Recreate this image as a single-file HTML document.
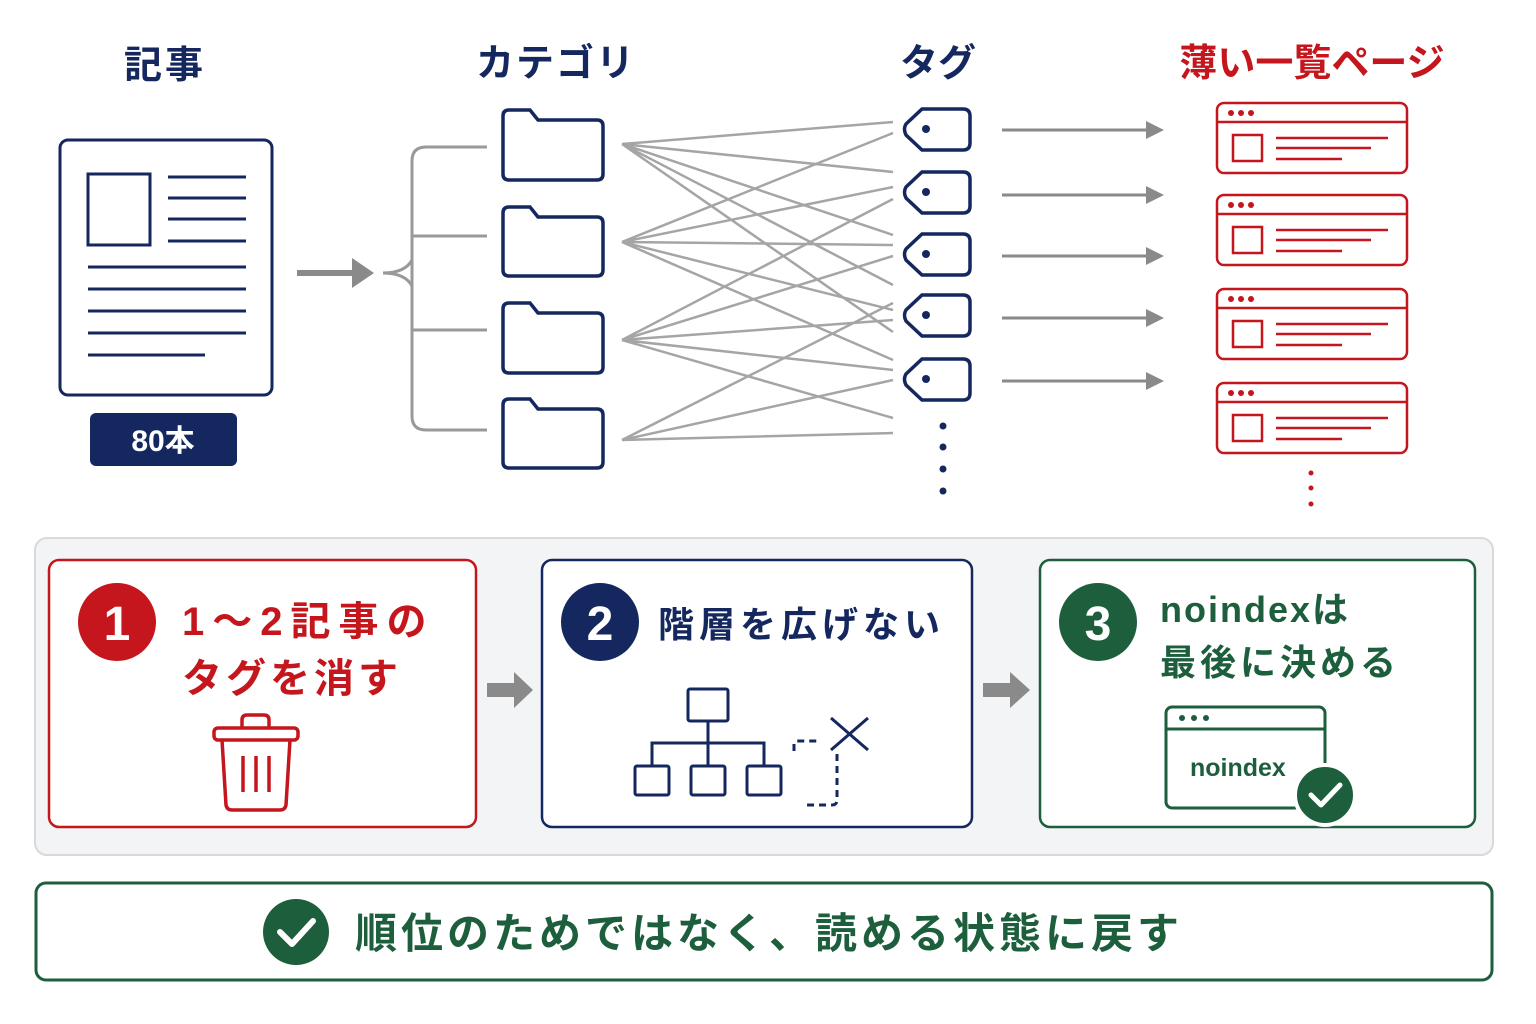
<!DOCTYPE html>
<html><head><meta charset="utf-8"><style>
html,body{margin:0;padding:0;background:#fff}
svg{display:block}
text{font-family:"Liberation Sans","Noto Sans CJK JP",sans-serif;font-weight:bold}
</style></head><body>
<svg width="1536" height="1024" viewBox="0 0 1536 1024" xmlns="http://www.w3.org/2000/svg">
<!-- titles -->
<g font-size="38" text-anchor="middle" fill="#14275e">
<text x="165" y="78" letter-spacing="3">記事</text>
<text x="556" y="76" letter-spacing="2">カテゴリ</text>
<text x="938" y="76">タグ</text>
<text x="1312" y="76" fill="#c4161c">薄い一覧ページ</text>
</g>
<!-- document -->
<g stroke="#14275e" stroke-width="3" fill="none">
<rect x="60" y="140" width="212" height="255" rx="8"/>
<rect x="88" y="174" width="62" height="71"/>
<path d="M168 177H246M168 198H246M168 219H246M168 241H246M88 267H246M88 289H246M88 311H246M88 333H246M88 355H205"/>
</g>
<rect x="90" y="413" width="147" height="53" rx="6" fill="#14275e"/>
<text x="163" y="451" font-size="30" fill="#fff" text-anchor="middle" font-weight="normal">80本</text>
<!-- arrow -->
<path d="M297 273H358" stroke="#8a8a8a" stroke-width="6"/>
<path d="M352 258L374 273L352 288z" fill="#8a8a8a"/>
<!-- bracket -->
<g stroke="#999" stroke-width="3" fill="none">
<path d="M487 147H426Q412 147 412 161V416Q412 430 426 430H487"/>
<path d="M412 236H487M412 330H487"/>
<path d="M383 273Q405 273 412 260M412 286Q405 273 383 273"/>
</g>
<!-- folders -->
<g stroke="#14275e" stroke-width="3.5" fill="#fff">
<path d="M509 110H530L538 120H597Q603 120 603 126V174Q603 180 597 180H509Q503 180 503 174V116Q503 110 509 110z"/>
<path d="M509 207H530L538 217H597Q603 217 603 223V270Q603 276 597 276H509Q503 276 503 270V213Q503 207 509 207z"/>
<path d="M509 303H530L538 313H597Q603 313 603 319V367Q603 373 597 373H509Q503 373 503 367V309Q503 303 509 303z"/>
<path d="M509 399H530L538 409H597Q603 409 603 415V462Q603 468 597 468H509Q503 468 503 462V405Q503 399 509 399z"/>
</g>
<!-- lines -->
<g stroke="#a5a5a5" stroke-width="2.5" fill="none">
<path d="M622 144L893 122M622 144L893 172M622 144L893 235M622 144L893 285M622 144L893 332"/>
<path d="M622 242L893 133M622 242L893 187M622 242L893 245M622 242L893 310M622 242L893 360"/>
<path d="M622 340L893 199M622 340L893 256M622 340L893 320M622 340L893 370M622 340L893 418"/>
<path d="M622 440L893 303M622 440L893 380M622 440L893 433"/>
</g>
<!-- tags -->
<g stroke="#14275e" stroke-width="3.5" fill="#fff">
<path d="M922 109H963Q970 109 970 116V143Q970 150 963 150H922L906 135Q903 129 906 124z"/>
<path d="M922 172H963Q970 172 970 179V206Q970 213 963 213H922L906 198Q903 192 906 187z"/>
<path d="M922 234H963Q970 234 970 241V268Q970 275 963 275H922L906 260Q903 254 906 249z"/>
<path d="M922 295H963Q970 295 970 302V329Q970 336 963 336H922L906 321Q903 315 906 310z"/>
<path d="M922 359H963Q970 359 970 366V393Q970 400 963 400H922L906 385Q903 379 906 374z"/>
</g>
<g fill="#14275e">
<circle cx="926" cy="129" r="4"/><circle cx="926" cy="192" r="4"/><circle cx="926" cy="254" r="4"/><circle cx="926" cy="315" r="4"/><circle cx="926" cy="379" r="4"/>
<circle cx="943" cy="426" r="3.5"/><circle cx="943" cy="447" r="3.5"/><circle cx="943" cy="469" r="3.5"/><circle cx="943" cy="491" r="3.5"/>
</g>
<!-- right arrows -->
<g stroke="#8a8a8a" stroke-width="3"><path d="M1002 130H1148M1002 195H1148M1002 256H1148M1002 318H1148M1002 381H1148"/></g>
<g fill="#8a8a8a"><path d="M1146 121L1164 130L1146 139z"/><path d="M1146 186L1164 195L1146 204z"/><path d="M1146 247L1164 256L1146 265z"/><path d="M1146 309L1164 318L1146 327z"/><path d="M1146 372L1164 381L1146 390z"/></g>
<!-- pages -->
<g id="pg" stroke="#c4161c" stroke-width="2.5" fill="none">
<rect x="1217" y="103" width="190" height="70" rx="7"/>
<path d="M1217 122H1407"/>
<rect x="1233" y="135" width="29" height="26"/>
<path d="M1276 138H1388M1276 148H1371M1276 159H1342"/>
</g>
<use href="#pg" y="92"/><use href="#pg" y="186"/><use href="#pg" y="280"/>
<g fill="#c4161c">
<circle cx="1231" cy="113" r="3"/><circle cx="1241" cy="113" r="3"/><circle cx="1251" cy="113" r="3"/>
<circle cx="1231" cy="205" r="3"/><circle cx="1241" cy="205" r="3"/><circle cx="1251" cy="205" r="3"/>
<circle cx="1231" cy="299" r="3"/><circle cx="1241" cy="299" r="3"/><circle cx="1251" cy="299" r="3"/>
<circle cx="1231" cy="393" r="3"/><circle cx="1241" cy="393" r="3"/><circle cx="1251" cy="393" r="3"/>
<circle cx="1311" cy="473" r="2.5"/><circle cx="1311" cy="488" r="2.5"/><circle cx="1311" cy="504" r="2.5"/>
</g>
<!-- panel -->
<rect x="35" y="538" width="1458" height="317" rx="12" fill="#f3f4f6" stroke="#d7d9dd" stroke-width="2"/>
<!-- box1 -->
<rect x="49" y="560" width="427" height="267" rx="10" fill="#fff" stroke="#c4161c" stroke-width="2.5"/>
<circle cx="117" cy="622" r="39" fill="#c4161c"/>
<text x="117" y="640" font-size="48" fill="#fff" text-anchor="middle">1</text>
<text x="182" y="635" font-size="40" fill="#c4161c" letter-spacing="8">1～2記事の</text>
<text x="182" y="692" font-size="40" fill="#c4161c" letter-spacing="4">タグを消す</text>
<g stroke="#c4161c" stroke-width="3.5" fill="none">
<path d="M242 728V720Q242 715 247 715H264Q269 715 269 720V728"/>
<rect x="214" y="728" width="84" height="12" rx="4"/>
<path d="M222 740L226 805Q227 810 232 810H280Q285 810 286 805L290 740"/>
<path d="M243 756V792M256 756V792M269 756V792"/>
</g>
<!-- arrow -->
<path d="M487 690H518" stroke="#8a8a8a" stroke-width="14"/>
<path d="M514 672L533 690L514 708z" fill="#8a8a8a"/>
<!-- box2 -->
<rect x="542" y="560" width="430" height="267" rx="10" fill="#fff" stroke="#14275e" stroke-width="2.5"/>
<circle cx="600" cy="622" r="39" fill="#14275e"/>
<text x="600" y="640" font-size="48" fill="#fff" text-anchor="middle">2</text>
<text x="658" y="637" font-size="36" fill="#14275e" letter-spacing="5">階層を広げない</text>
<g stroke="#14275e" stroke-width="3" fill="none">
<rect x="688" y="689" width="40" height="32" rx="2"/>
<rect x="635" y="766" width="34" height="29" rx="2"/>
<rect x="691" y="766" width="34" height="29" rx="2"/>
<rect x="747" y="766" width="34" height="29" rx="2"/>
<path d="M708 721V766M652 766V743H764V766"/>
<path d="M794 751V744Q794 741 797 741H818M837 754V800Q837 805 832 805H803" stroke-dasharray="7 5"/>
<path d="M831 718L868 750M868 718L831 750"/>
</g>
<!-- arrow -->
<path d="M983 690H1014" stroke="#8a8a8a" stroke-width="14"/>
<path d="M1010 672L1030 690L1010 708z" fill="#8a8a8a"/>
<!-- box3 -->
<rect x="1040" y="560" width="435" height="267" rx="10" fill="#fff" stroke="#1d5e3c" stroke-width="2.5"/>
<circle cx="1098" cy="622" r="39" fill="#1d5e3c"/>
<text x="1098" y="640" font-size="48" fill="#fff" text-anchor="middle">3</text>
<text x="1160" y="622" font-size="36" fill="#1d5e3c" letter-spacing="2">noindexは</text>
<text x="1160" y="675" font-size="36" fill="#1d5e3c" letter-spacing="4">最後に決める</text>
<g stroke="#1d5e3c" stroke-width="3" fill="none">
<rect x="1166" y="707" width="159" height="101" rx="6"/>
<path d="M1166 729H1325"/>
</g>
<g fill="#1d5e3c"><circle cx="1182" cy="718" r="3"/><circle cx="1194" cy="718" r="3"/><circle cx="1206" cy="718" r="3"/></g>
<text x="1190" y="776" font-size="25" fill="#1d5e3c" font-weight="normal">noindex</text>
<circle cx="1325" cy="795" r="30" fill="#1d5e3c" stroke="#fff" stroke-width="4"/>
<path d="M1311 795L1321 805L1340 785" stroke="#fff" stroke-width="5" fill="none" stroke-linecap="round" stroke-linejoin="round"/>
<!-- bottom -->
<rect x="36" y="883" width="1456" height="97" rx="10" fill="#fff" stroke="#1d5e3c" stroke-width="3"/>
<circle cx="296" cy="932" r="33" fill="#1d5e3c"/>
<path d="M280 932L292 944L313 921" stroke="#fff" stroke-width="6" fill="none" stroke-linecap="round" stroke-linejoin="round"/>
<text x="355" y="948" font-size="42" fill="#1d5e3c" letter-spacing="4">順位のためではなく、読める状態に戻す</text>
</svg>
</body></html>
